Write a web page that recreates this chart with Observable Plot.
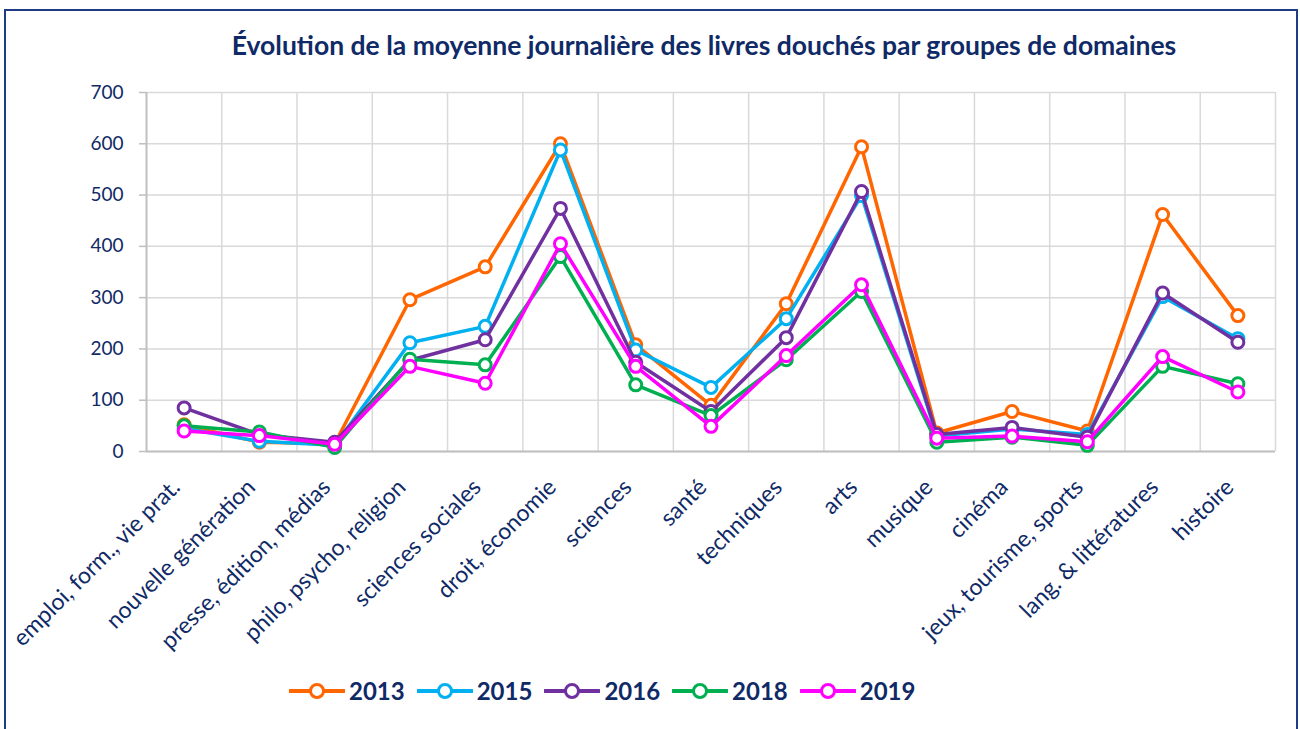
<!DOCTYPE html>
<html>
<head>
<meta charset="utf-8">
<script src="https://cdn.jsdelivr.net/npm/d3@7"></script>
<script src="https://cdn.jsdelivr.net/npm/@observablehq/plot@0.6"></script>
<style>
  html, body { margin: 0; padding: 0; background: #fff; }
  body { width: 1300px; height: 729px; position: relative; overflow: hidden; font-family: Lato, "Open Sans", sans-serif; }
  #frame { position: absolute; left: 4px; top: 9px; width: 1294px; height: 740px; border: 2px solid #1F3C88; box-sizing: border-box; }
  #title { position: absolute; left: 0; top: 29px; width: 1300px; padding-left: 108px; box-sizing: border-box; text-align: center; font-weight: 700; font-size: 26.5px; color: #0F2A66; }
  #chart { position: absolute; left: 0; top: 75px; }
  #legend { position: absolute; left: 289px; top: 676px; display: flex; align-items: center; }
  .item { display: flex; align-items: center; margin-right: 12px; }
  .item span { font-weight: 700; font-size: 24px; color: #0F2A66; margin-left: 4px; }
</style>
</head>
<body>
<div id="frame"></div>
<div id="title">Évolution de la moyenne journalière des livres douchés par groupes de domaines</div>
<div id="chart"></div>
<div id="legend"></div>
<script>
const categories = ["emploi, form., vie prat.", "nouvelle génération", "presse, édition, médias", "philo, psycho, religion", "sciences sociales", "droit, économie", "sciences", "santé", "techniques", "arts", "musique", "cinéma", "jeux, tourisme, sports", "lang. & littératures", "histoire"];
const years = ["2013", "2015", "2016", "2018", "2019"];
const v2013 = [52, 18, 15, 296, 360, 600, 208, 90, 288, 594, 36, 78, 40, 462, 265];
const v2015 = [45, 20, 12, 212, 244, 588, 198, 125, 259, 499, 30, 44, 33, 302, 220];
const v2016 = [85, 33, 18, 178, 218, 474, 174, 78, 222, 507, 33, 47, 28, 309, 213];
const v2018 = [50, 38, 8, 180, 169, 380, 130, 70, 179, 312, 18, 28, 12, 166, 132];
const v2019 = [40, 31, 14, 166, 133, 405, 166, 49, 187, 325, 26, 30, 19, 185, 116];
const yTicks = [0, 100, 200, 300, 400, 500, 600, 700];
const colors = ["#FF6600", "#00B0F0", "#7030A0", "#00B050", "#FF00FF"];

const seriesValues = [v2013, v2015, v2016, v2018, v2019];
const navy = "#0F2A66";
const gridColor = "#D9D9D9";
const axisColor = "#BFBFBF";

const idx = categories.map((c, i) => i);
const boundaries = categories.map((c, i) => i - 0.5).concat([categories.length - 0.5]);

const seriesMarks = [];
years.forEach((y, s) => {
  const data = seriesValues[s].map((v, i) => ({i, v, year: y}));
  seriesMarks.push(Plot.line(data, {x: "i", y: "v", stroke: colors[s], strokeWidth: 3.5, strokeLinejoin: "round"}));
  seriesMarks.push(Plot.dot(data, {x: "i", y: "v", r: 6, fill: "white", stroke: colors[s], strokeWidth: 3}));
});

const chart = Plot.plot({
  width: 1300,
  height: 590,
  marginLeft: 146,
  marginRight: 25,
  marginTop: 17,
  marginBottom: 214,
  style: {fontFamily: "Lato, 'Open Sans', sans-serif", background: "transparent"},
  x: {type: "linear", domain: [-0.5, categories.length - 0.5]},
  y: {domain: [0, 700]},
  marks: [
    Plot.gridY(yTicks, {stroke: gridColor, strokeOpacity: 1, strokeWidth: 1.5}),
    Plot.ruleX(boundaries.slice(1), {stroke: gridColor, strokeWidth: 1.5}),
    Plot.ruleY([0], {stroke: axisColor, strokeWidth: 2}),
    Plot.ruleX([boundaries[0]], {stroke: axisColor, strokeWidth: 2}),
    Plot.axisY({ticks: yTicks, tickSize: 7, tickPadding: 16, stroke: axisColor, strokeWidth: 1.5, fill: navy, fontSize: 19, label: null}),
    Plot.axisX({ticks: idx, tickFormat: i => categories[i], tickRotate: -45, tickSize: 0, tickPadding: 32, dx: -8, fill: navy, fontSize: 23, label: null}),
    ...seriesMarks
  ]
});
document.getElementById("chart").appendChild(chart);

const legend = document.getElementById("legend");
years.forEach((y, s) => {
  const item = document.createElement("div");
  item.className = "item";
  item.innerHTML = `<svg width="56" height="20"><line x1="1" y1="10" x2="55" y2="10" stroke="${colors[s]}" stroke-width="4" stroke-linecap="round"/><circle cx="28" cy="10" r="6.5" fill="white" stroke="${colors[s]}" stroke-width="3"/></svg><span>${y}</span>`;
  legend.appendChild(item);
});
</script>
</body>
</html>
